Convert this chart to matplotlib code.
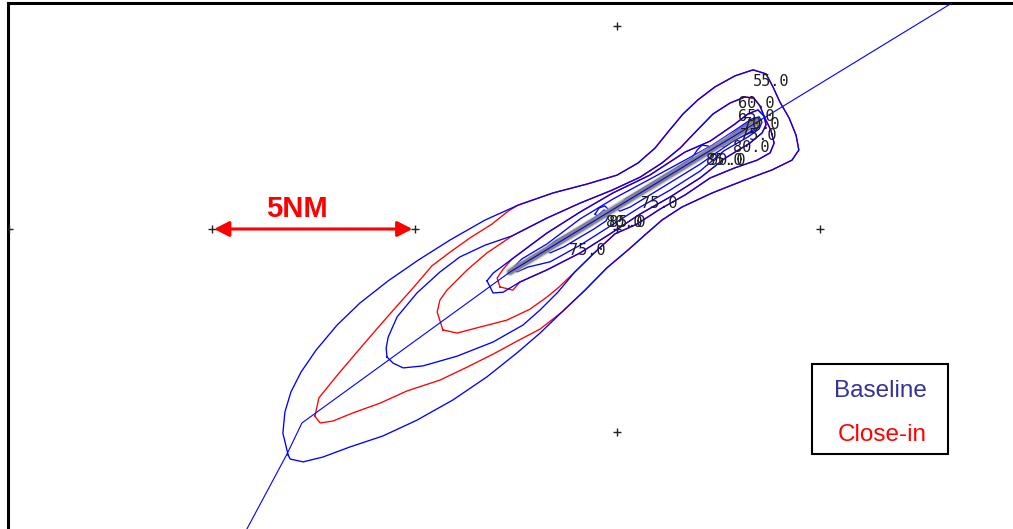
import numpy as np
import matplotlib
matplotlib.use("Agg")
import matplotlib.pyplot as plt
from matplotlib.patches import FancyArrowPatch, Rectangle, ArrowStyle

# ---------------------------------------------------------------------------
# Map frame: coordinates in nautical miles, origin at the central grid mark
# ---------------------------------------------------------------------------
W_PX, H_PX, DPI = 1013, 529, 100
PX_PER_NM = 40.5
ORIGIN_PX = (617.0, 229.0)
FRAME_LEFT_PX, FRAME_TOP_PX = 7.7, 3.3

# 5 NM reference grid marks
mark_x = [-15, -10, -5, 0, 5, 0, 0]
mark_y = [0, 0, 0, 0, 0, 5, -5]

# Flight track and runway
track_x = [-9.14, -8.15, -7.78, -2.64, 3.46, 8.27]
track_y = [-7.41, -5.56, -4.79, -1.06, 2.64, 5.58]
runway_x = [-2.64, 3.46]
runway_y = [-1.06, 2.64]

# Noise contour levels (dB)
levels = [55, 60, 65, 70, 75, 80, 85, 90]

# ---------------------------- Baseline contours ----------------------------
b55_x = [-8.12, -8.25, -8.20, -8.05, -7.80, -7.43, -6.91, -6.35, -5.65, -4.91,
         -4.12, -3.26, -2.44, -1.58, -0.74, 0.00, 0.52, 0.94, 1.28, 1.63,
         2.00, 2.42, 2.91, 3.36, 3.68, 3.85, 4.02, 4.25, 4.42, 4.49,
         4.32, 3.83, 3.16, 2.35, 1.60, 1.11, 0.72, 0.27, -0.25, -0.79,
         -1.36, -1.90, -2.47, -3.21, -4.05, -4.94, -5.78, -6.59, -7.26, -7.75,
         -8.07]
b55_y = [-5.58, -5.04, -4.52, -4.02, -3.53, -2.99, -2.37, -1.83, -1.28, -0.77,
         -0.27, 0.22, 0.59, 0.89, 1.11, 1.33, 1.63, 2.00, 2.42, 2.84,
         3.19, 3.51, 3.78, 3.93, 3.83, 3.51, 3.14, 2.74, 2.32, 1.95,
         1.70, 1.46, 1.21, 0.89, 0.54, 0.22, -0.12, -0.52, -0.96, -1.51,
         -2.05, -2.57, -3.06, -3.65, -4.22, -4.72, -5.11, -5.38, -5.63, -5.75,
         -5.68]

b60_x = [-5.68, -5.70, -5.65, -5.43, -4.94, -4.37, -3.88, -3.26, -2.59, -1.73,
         -0.91, -0.12, 0.57, 1.11, 1.56, 1.98, 2.37, 2.79, 3.16, 3.38,
         3.53, 3.65, 3.80, 3.88, 3.78, 3.46, 2.91, 2.30, 1.68, 1.06,
         0.49, -0.05, -0.54, -1.04, -1.46, -1.90, -2.32, -3.06, -3.95, -4.79,
         -5.28, -5.53]
b60_y = [-3.16, -2.94, -2.67, -2.17, -1.58, -1.06, -0.69, -0.40, -0.17, 0.27,
         0.64, 0.96, 1.28, 1.63, 2.00, 2.44, 2.84, 3.11, 3.26, 3.23,
         3.04, 2.74, 2.44, 2.12, 1.88, 1.70, 1.51, 1.26, 0.84, 0.49,
         0.12, -0.12, -0.57, -1.06, -1.56, -2.00, -2.37, -2.79, -3.14, -3.38,
         -3.43, -3.31]

b65_x = [-3.21, -3.06, -2.59, -1.73, -0.91, -0.10, 0.81, 1.68, 2.30, 2.91,
         3.23, 3.48, 3.63, 3.68, 3.58, 3.28, 2.67, 2.05, 1.31, 0.57,
         -0.17, -0.91, -1.73, -2.40, -2.81, -3.06]
b65_y = [-1.28, -1.09, -0.74, -0.10, 0.42, 0.89, 1.33, 1.90, 2.17, 2.59,
         2.84, 2.94, 2.79, 2.57, 2.37, 2.12, 1.75, 1.26, 0.79, 0.37,
         -0.12, -0.59, -1.01, -1.31, -1.56, -1.58]

b70_x = [-2.57, -2.35, -1.73, -0.91, -0.10, 0.81, 1.68, 2.35, 2.96, 3.33,
         3.51, 3.58, 3.51, 3.23, 2.64, 2.05, 1.31, 0.57, -0.17, -0.91,
         -1.65, -2.20, -2.47]
b70_y = [-0.96, -0.74, -0.37, 0.25, 0.74, 1.23, 1.70, 2.07, 2.47, 2.72,
         2.77, 2.64, 2.47, 2.27, 1.93, 1.43, 0.96, 0.54, 0.07, -0.40,
         -0.81, -0.94, -1.06]

b75a_x = [-1.78, -1.53, -1.04, -0.49, -0.32, -0.20, -0.27, -0.57, -0.91, -1.31, -1.65]
b75a_y = [-0.49, -0.30, -0.02, 0.32, 0.47, 0.37, 0.20, 0.00, -0.20, -0.44, -0.59]

b75b_x = [-0.02, 0.20, 1.01, 1.85, 1.98, 2.10, 2.25, 2.35, 2.91, 3.28,
          3.46, 3.53, 3.43, 2.91, 2.05, 1.01, 0.32, 0.07]
b75b_y = [0.52, 0.74, 1.23, 1.75, 1.95, 2.07, 2.05, 1.95, 2.40, 2.64,
          2.72, 2.59, 2.44, 2.20, 1.60, 0.96, 0.54, 0.44]

b80_x = [2.59, 2.99, 3.33, 3.46, 3.48, 3.23, 2.84, 2.64]
b80_y = [2.05, 2.30, 2.54, 2.62, 2.52, 2.37, 2.15, 2.02]

b80_isl_x = [-0.54, -0.44, -0.30, -0.20, -0.27, -0.44]
b80_isl_y = [0.37, 0.52, 0.57, 0.47, 0.32, 0.27]

# ---------------------------- Close-in contours ----------------------------
# Approach-end branches that differ from the baseline; elsewhere they coincide.
c55_up_x = [-7.46, -7.36, -6.94, -6.44, -5.95, -5.46, -5.04, -4.57, -4.12, -3.63, -3.09, -2.69]
c55_up_y = [-4.62, -4.17, -3.65, -3.06, -2.49, -1.93, -1.46, -0.91, -0.57, -0.22, 0.12, 0.44]
c55_lo_x = [-1.90, -2.47, -3.06, -3.70, -4.37, -5.19, -5.85, -6.52, -7.01, -7.33]
c55_lo_y = [-2.47, -2.77, -3.09, -3.41, -3.73, -4.00, -4.30, -4.54, -4.74, -4.79]

c60_up_x = [-4.30, -4.44, -4.37, -4.20, -3.70, -3.21, -2.81]
c60_up_y = [-2.49, -2.05, -1.75, -1.51, -1.01, -0.59, -0.32]
c60_lo_x = [-1.46, -1.73, -2.15, -2.72, -3.38, -3.95]
c60_lo_y = [-1.46, -1.68, -1.98, -2.25, -2.42, -2.57]

c65_up_x = [-2.89, -2.96, -2.81]
c65_up_y = [-1.43, -1.21, -0.99]
c65_lo_x = [-2.57]
c65_lo_y = [-1.51]

# Contour labels (level, position)
label_level = [55, 60, 65, 70, 75, 80, 85, 90, 75, 80, 85, 75]
label_x = [3.80, 3.43, 3.43, 3.56, 3.48, 3.31, 2.64, 2.72, 1.04, 0.17, 0.25, -0.74]
label_y = [3.63, 3.11, 2.79, 2.59, 2.32, 2.00, 1.70, 1.70, 0.64, 0.15, 0.15, -0.54]

legend_labels = ["Baseline", "Close-in"]
scale_label = "5NM"
scale_start, scale_end = -10, -5

# ---------------------------------------------------------------------------
BLUE = "#0000ff"
RED = "#ff0000"
LW = 0.95


def closed(xs, ys):
    xs = np.asarray(xs, float)
    ys = np.asarray(ys, float)
    return np.r_[xs, xs[:1]], np.r_[ys, ys[:1]]


fig = plt.figure(figsize=(W_PX / DPI, H_PX / DPI), dpi=DPI)
fig.patch.set_facecolor("white")
ax = fig.add_axes([FRAME_LEFT_PX / W_PX, 0.0,
                   (W_PX - FRAME_LEFT_PX) / W_PX, (H_PX - FRAME_TOP_PX) / H_PX])
ax.set_xlim((FRAME_LEFT_PX - ORIGIN_PX[0]) / PX_PER_NM, (W_PX - ORIGIN_PX[0]) / PX_PER_NM)
ax.set_ylim((ORIGIN_PX[1] - H_PX) / PX_PER_NM, (ORIGIN_PX[1] - FRAME_TOP_PX) / PX_PER_NM)
ax.set_xticks([])
ax.set_yticks([])
for side in ("right", "bottom"):
    ax.spines[side].set_visible(False)
for side in ("top", "left"):
    ax.spines[side].set_linewidth(2.2)
    ax.spines[side].set_color("black")

# Close-in contours (drawn beneath the baseline set)
b55x, b55y = np.array(b55_x), np.array(b55_y)
b60x, b60y = np.array(b60_x), np.array(b60_y)
b65x, b65y = np.array(b65_x), np.array(b65_y)
c55 = closed(np.r_[c55_up_x, b55x[12:41], c55_lo_x], np.r_[c55_up_y, b55y[12:41], c55_lo_y])
c60 = closed(np.r_[c60_up_x, b60x[8:34], c60_lo_x], np.r_[c60_up_y, b60y[8:34], c60_lo_y])
c65 = closed(np.r_[c65_up_x, b65x[2:24], c65_lo_x], np.r_[c65_up_y, b65y[2:24], c65_lo_y])
for cx, cy in (c55, c60, c65):
    ax.plot(cx, cy, color=RED, lw=LW, zorder=2)

# Baseline contours
for xs, ys in ((b55_x, b55_y), (b60_x, b60_y), (b65_x, b65_y), (b70_x, b70_y),
               (b75a_x, b75a_y), (b75b_x, b75b_y), (b80_x, b80_y),
               (b80_isl_x, b80_isl_y)):
    cx, cy = closed(xs, ys)
    ax.plot(cx, cy, color=BLUE, lw=LW, zorder=3)

# Runway (soft grey bar over the contours)
ax.plot(runway_x, runway_y, color="#a8a8a8", lw=6.2, alpha=0.5,
        solid_capstyle="round", zorder=3.2)
ax.plot(runway_x, runway_y, color="#858585", lw=4.2,
        solid_capstyle="round", zorder=3.3)

# Flight track
ax.plot(track_x, track_y, color=BLUE, lw=0.8, zorder=3.5)

# Grid marks
ax.plot(mark_x, mark_y, ls="none", marker="+", ms=6, mew=1.0,
        color="#222222", zorder=4)

# Contour level labels
for lvl, lx, ly in zip(label_level, label_x, label_y):
    ax.text(lx, ly, f"{lvl:.1f}", family="DejaVu Sans Mono", fontsize=11,
            color="#1e1e1e", ha="center", va="center", zorder=6)

# Scale bar
arrow = FancyArrowPatch((scale_start + 0.05, 0), (scale_end - 0.05, 0),
                        arrowstyle=ArrowStyle("<|-|>", head_length=9.0, head_width=4.6),
                        mutation_scale=1, color=RED, lw=2.2,
                        shrinkA=0, shrinkB=0, zorder=5)
ax.add_patch(arrow)
ax.text(-7.91, 0.30, scale_label, color=RED, fontsize=21, fontweight="bold",
        family="Liberation Sans", ha="center", va="baseline", zorder=6)

# Legend box
fig.add_artist(Rectangle((811.5 / W_PX, 1 - 454.0 / H_PX), 136.0 / W_PX, 90.5 / H_PX,
                         transform=fig.transFigure, facecolor="white",
                         edgecolor="black", lw=1.5, zorder=10))
fig.text(880.0 / W_PX, 1 - 396.7 / H_PX, legend_labels[0], color="#333399",
         fontsize=17.5, family="Liberation Sans", ha="center", va="baseline", zorder=11)
fig.text(882.0 / W_PX, 1 - 440.7 / H_PX, legend_labels[1], color=RED,
         fontsize=17.5, family="Liberation Sans", ha="center", va="baseline", zorder=11)

fig.savefig("out.png", dpi=DPI, facecolor="white")
